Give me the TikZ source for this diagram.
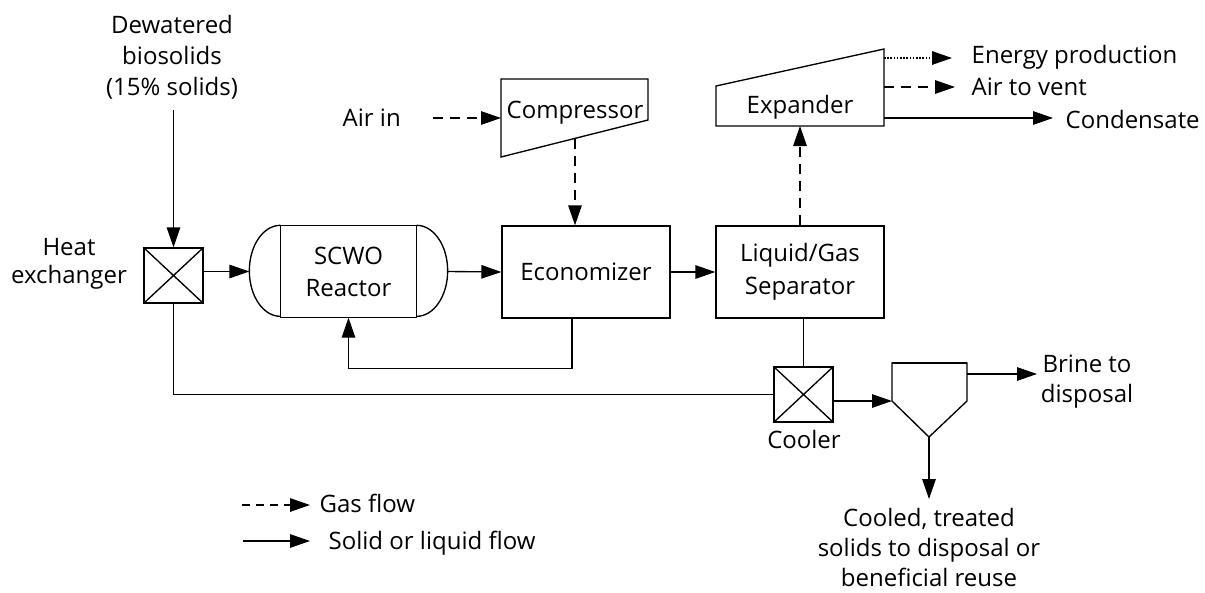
\documentclass[tikz,border=0pt]{standalone}
\usepackage{fontspec}
\setmainfont{Open Sans}
\usetikzlibrary{arrows.meta}
\begin{document}
\begin{tikzpicture}[x=1pt,y=-1pt,line width=1.35pt,
  tip/.style={-{Triangle[length=20pt,width=13.5pt]}},
  gasline/.style={tip, dash pattern=on 10pt off 7pt},
  dotline/.style={tip, dash pattern=on 1.6pt off 1.6pt},
  txt/.style={font=\fontsize{24}{31}\selectfont, inner sep=0pt, align=center},
  box/.style={draw, minimum width=168pt, minimum height=92pt, inner sep=0pt},
  hxbox/.style={draw, minimum width=59pt, minimum height=55pt, inner sep=0pt},
]
\useasboundingbox (0,0) rectangle (1205,592);

% feed
\node[txt] (dew) at (172,57) {Dewatered\\biosolids\\(15\% solids)};
\coordinate (dewend) at (173.5,110);

% heat exchanger
\node[hxbox] (hx) at (173.5,275.5) {};
\draw (hx.north west) -- (hx.south east) (hx.north east) -- (hx.south west);
\node[txt,font=\fontsize{24}{28}\selectfont] (hxl) at (69,263.5) {Heat\\exchanger};
\draw[tip] (dewend) -- (hx.north);

% reactor
\node[txt,font=\fontsize{24}{32}\selectfont, minimum width=197pt, minimum height=91pt] (reactor) at (348.5,271.5) {SCWO\\Reactor};
\draw ([xshift=31pt]reactor.north west) rectangle ([xshift=-31pt]reactor.south east);
\draw ([xshift=31pt]reactor.north west) arc[start angle=90, end angle=270, x radius=31pt, y radius=45.5pt];
\draw ([xshift=-31pt]reactor.north east) arc[start angle=90, end angle=-90, x radius=31pt, y radius=45.5pt];
\draw[tip] (hx.east |- reactor.west) -- (reactor.west);

% economizer and separator
\node[box,txt] (econ) at (586,272) {Economizer};
\node[box,txt,font=\fontsize{24}{33}\selectfont] (sep) at (800,272) {Liquid/Gas\\Separator};
\draw[tip] (reactor.east) -- (econ.west);
\draw[tip] (econ.east) -- (sep.west);
\draw[tip] ([xshift=-14pt]econ.south) -- ++(0,50) -| (reactor.south);

% compressor
\draw (501,79) -- (648,79) -- (648,120) -- (501,157) -- cycle;
\node[txt,anchor=base] (comp) at (575,118) {Compressor};
\node[txt,anchor=base west] (airin) at (342,126) {Air in};
\coordinate (airstart) at (433,118);
\coordinate (compin) at (501,118);
\coordinate (compout) at (575,138.5);
\draw[gasline] (airstart) -- (compin);
\draw[gasline] (compout) -- (compout |- econ.north);

% expander
\draw (716,126) -- (884,126) -- (884,49) -- (716,86) -- cycle;
\node[txt,anchor=base] (exp) at (800,113) {Expander};
\coordinate (expbot) at (800,126);
\draw[gasline] (sep.north) -- (expbot);

\coordinate (eo1) at (884,58);   \coordinate (eo1e) at (952,58);
\coordinate (eo2) at (884,87);   \coordinate (eo2e) at (955,87);
\coordinate (eo3) at (884,118);  \coordinate (eo3e) at (1053,118);
\draw[dotline] (eo1) -- (eo1e);
\draw[gasline] (eo2) -- (eo2e);
\draw[tip] (eo3) -- (eo3e);
\node[txt,anchor=base west] (energy) at (971,63) {Energy production};
\node[txt,anchor=base west] (vent) at (971,95) {Air to vent};
\node[txt,anchor=base west] (cond) at (1065,128) {Condensate};

% cooler
\node[hxbox] (cool) at (803.5,394.5) {};
\draw (cool.north west) -- (cool.south east) (cool.north east) -- (cool.south west);
\node[txt,anchor=base] (coollbl) at (804,448) {Cooler};
\draw (cool.north) -- (cool.north |- sep.south);
\draw (hx.south) -- (hx.south |- cool.west) -- (cool.west);

% settler
\coordinate (stl) at (892,363);
\coordinate (str) at (967,363);
\coordinate (strb) at (967,401);
\coordinate (stp) at (929,437);
\coordinate (stlb) at (892,401);
\draw (stl) -- (str) -- (strb) -- (stp) -- (stlb) -- cycle;
\draw[line width=2.2pt] (stl) -- (str);
\draw[tip] (cool.east |- stlb) -- (stlb);
\coordinate (brs) at (967,374);
\coordinate (bre) at (1037,374);
\draw[tip] (brs) -- (bre);
\node[txt,font=\fontsize{24}{30}\selectfont] (brine) at (1087,381.6) {Brine to\\disposal};
\coordinate (solend) at (929,499);
\draw[tip] (stp) -- (solend);
\node[txt,font=\fontsize{24}{30}\selectfont] (cooled) at (929,547) {Cooled, treated\\solids to disposal or\\beneficial reuse};

% legend
\coordinate (lg1s) at (242,505); \coordinate (lg1e) at (310,505);
\coordinate (lg2s) at (243,541); \coordinate (lg2e) at (310,541);
\draw[gasline,dash pattern=on 8pt off 6pt] (lg1s) -- (lg1e);
\draw[tip] (lg2s) -- (lg2e);
\node[txt,anchor=base west] (lg1) at (319,512) {Gas flow};
\node[txt,anchor=base west] (lg2) at (328,549) {Solid or liquid flow};
\end{tikzpicture}
\end{document}
